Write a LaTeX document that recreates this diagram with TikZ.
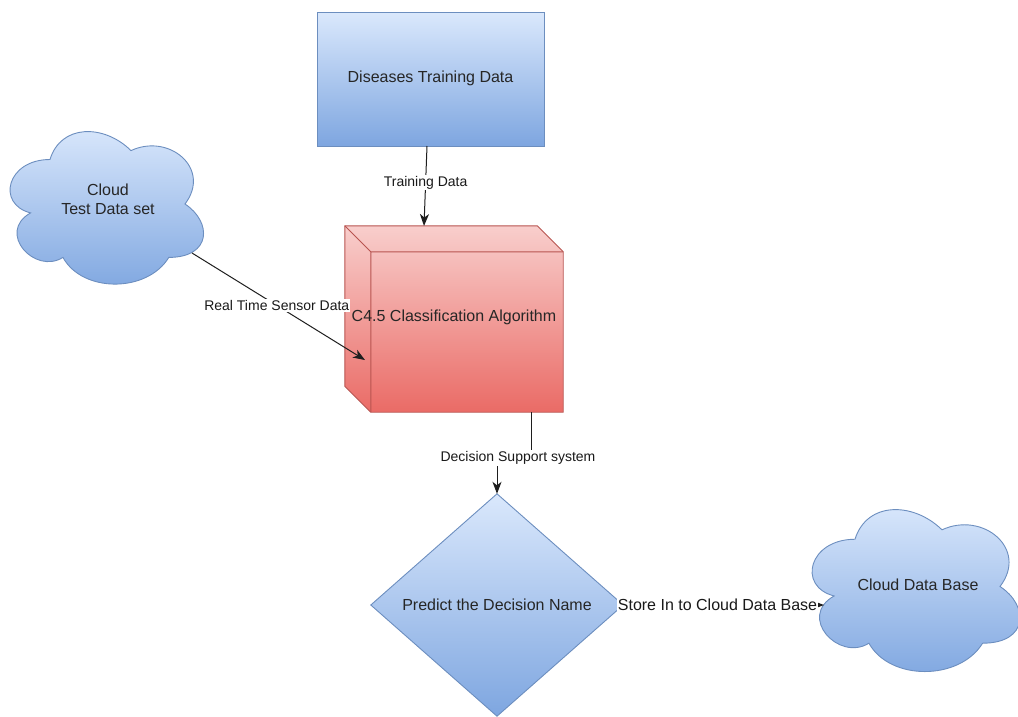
\documentclass[tikz,border=0pt]{standalone}
\usepackage{fontspec}
\setmainfont{Liberation Sans}
\usetikzlibrary{arrows.meta,calc}

\definecolor{bluetop}{RGB}{218,232,252}
\definecolor{bluebot}{RGB}{126,166,224}
\definecolor{blueline}{RGB}{108,142,191}
\definecolor{redtop}{RGB}{248,206,204}
\definecolor{redbot}{RGB}{234,107,102}
\definecolor{redline}{RGB}{184,84,80}
\definecolor{edgecol}{RGB}{30,30,30}

\tikzset{
  blueshade/.style={top color=bluetop, bottom color=bluebot, draw=blueline, line width=0.9pt},
  redshade/.style={top color=redtop, bottom color=redbot, draw=redline, line width=0.9pt},
  nodetext/.style={font=\fontsize{16}{19}\selectfont, text=black!85, align=center, inner sep=0pt},
  edgelabel/.style={font=\fontsize{14}{16}\selectfont, fill=white, inner sep=1pt, text=black!90},
  bigedgelabel/.style={font=\fontsize{16}{19}\selectfont, fill=white, inner sep=1pt, text=black!90},
  flow/.style={draw=edgecol, line width=1pt, -{Stealth[length=12pt,width=9pt,inset=3.5pt]}},
}

% cloud outline in a unit box, y pointing down
\newcommand{\cloudoutline}{%
  (0.25,0.25) .. controls (0.05,0.25) and (0,0.5) .. (0.16,0.55)
  .. controls (0,0.66) and (0.18,0.9) .. (0.31,0.8)
  .. controls (0.4,1) and (0.7,1) .. (0.8,0.8)
  .. controls (1,0.8) and (1,0.6) .. (0.875,0.5)
  .. controls (1,0.3) and (0.8,0.1) .. (0.625,0.2)
  .. controls (0.5,0.05) and (0.3,0.05) .. (0.25,0.25) -- cycle}

\begin{document}
\begin{tikzpicture}[x=1pt,y=-1pt]
\useasboundingbox (0,0) rectangle (1018,716);

% ---- Diseases Training Data ----
\node[blueshade, minimum width=227pt, minimum height=134pt, inner sep=0pt]
  (train) at (430.5,79) {};
\node[nodetext] (traintext) at (430.5,78) {Diseases Training Data};

% ---- Cloud test data set ----
\begin{scope}[shift={(-4,115)}, xscale=216, yscale=178]
  \path[blueshade] \cloudoutline;
\end{scope}
\node[nodetext] (testcloud) at (108,199) {Cloud\\Test Data set};

% ---- C4.5 cube ----
\node[minimum width=218pt, minimum height=186pt, inner sep=0pt] (cube) at (454,319) {};
\path[redshade]
  (cube.north west) -- ($(cube.north east)+(-26,0)$) -- ($(cube.north east)+(0,26)$)
  -- (cube.south east) -- ($(cube.south west)+(26,0)$) -- ($(cube.south west)+(0,-26)$) -- cycle;
\draw[redline, line width=0.9pt]
  (cube.north west) -- ($(cube.north west)+(26,26)$) -- ($(cube.north east)+(0,26)$)
  ($(cube.north west)+(26,26)$) -- ($(cube.south west)+(26,0)$);
\node[nodetext] (cubetext) at (454,317) {C4.5 Classification Algorithm};

% ---- Decision diamond ----
\node[minimum width=252pt, minimum height=222pt, inner sep=0pt] (decide) at (497,605) {};
\path[blueshade] (decide.north) -- (decide.east) -- (decide.south) -- (decide.west) -- cycle;
\node[nodetext] (decidetext) at (497,605) {Predict the Decision Name};

% ---- Cloud data base ----
\begin{scope}[shift={(797,492)}, xscale=232, yscale=189]
  \path[blueshade] \cloudoutline;
\end{scope}
\node[nodetext] (dbcloud) at (918,585) {Cloud Data Base};

% ---- connectors ----
\coordinate (trainout) at (427,146);
\coordinate (cubein) at (424,226);
\draw[flow] (trainout) -- (cubein)
  node[edgelabel, pos=0.46] (lbltrain) {Training Data};

\coordinate (cloudout) at (192,253);
\coordinate (cubeside) at (365,360);
\draw[flow] (cloudout) -- (cubeside)
  node[edgelabel, pos=0.49] (lblsensor) {Real Time Sensor Data};

\coordinate (cubeout) at (531,412);
\coordinate (bendA) at (531,458);
\coordinate (bendB) at (497,458);
\draw[flow] (cubeout) -- (bendA) -- (bendB) -- (decide.north);
\node[edgelabel] (lbldss) at (518,458) {Decision Support system};

\coordinate (dbin) at (824,605);
\draw[flow] (decide.east) -- (dbin);
\node[bigedgelabel] (lblstore) at (717.5,605) {Store In to Cloud Data Base};

\end{tikzpicture}
\end{document}
